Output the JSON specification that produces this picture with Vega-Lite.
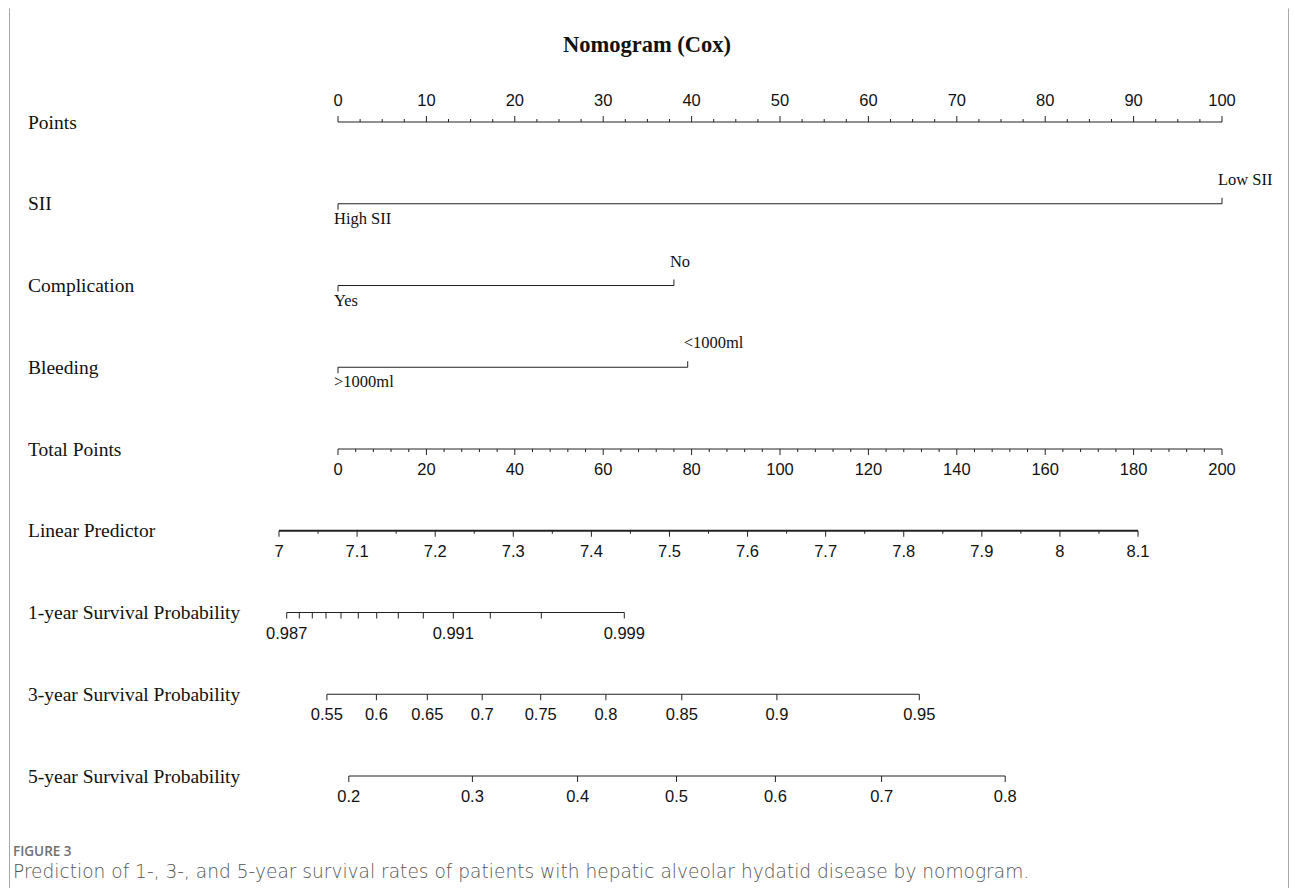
{
  "$schema": "https://vega.github.io/schema/vega-lite/v6.json",
  "width": 1279,
  "height": 880,
  "autosize": "none",
  "padding": {"left": 9, "top": 8, "right": 7, "bottom": 0},
  "background": "white",
  "config": {
    "view": {"stroke": null},
    "axis": {"domainColor": "#a6a6a6", "domainWidth": 1, "ticks": false, "labels": false, "grid": false}
  },
  "resolve": {"axis": {"y": "independent"}},
  "datasets": {
    "lines": [
      {"row": 0, "name": "Points", "start": 0, "end": 100},
      {"row": 1, "name": "SII", "start": 0, "end": 100},
      {"row": 2, "name": "Complication", "start": 0, "end": 38.0},
      {"row": 3, "name": "Bleeding", "start": 0, "end": 39.56},
      {"row": 4, "name": "Total Points", "start": 0, "end": 100},
      {"row": 5, "name": "Linear Predictor", "start": -6.674, "end": 90.5},
      {"row": 6, "name": "1-year Survival Probability", "start": -5.803, "end": 32.387},
      {"row": 7, "name": "3-year Survival Probability", "start": -1.256, "end": 65.758},
      {"row": 8, "name": "5-year Survival Probability", "start": 1.222, "end": 75.475}
    ],
    "ticks": [
      {"row": 0, "pos": 0, "dir": "up", "major": true, "label": "0"},
      {"row": 0, "pos": 2.5, "dir": "up"},
      {"row": 0, "pos": 5, "dir": "up"},
      {"row": 0, "pos": 7.5, "dir": "up"},
      {"row": 0, "pos": 10, "dir": "up", "major": true, "label": "10"},
      {"row": 0, "pos": 12.5, "dir": "up"},
      {"row": 0, "pos": 15, "dir": "up"},
      {"row": 0, "pos": 17.5, "dir": "up"},
      {"row": 0, "pos": 20, "dir": "up", "major": true, "label": "20"},
      {"row": 0, "pos": 22.5, "dir": "up"},
      {"row": 0, "pos": 25, "dir": "up"},
      {"row": 0, "pos": 27.5, "dir": "up"},
      {"row": 0, "pos": 30, "dir": "up", "major": true, "label": "30"},
      {"row": 0, "pos": 32.5, "dir": "up"},
      {"row": 0, "pos": 35, "dir": "up"},
      {"row": 0, "pos": 37.5, "dir": "up"},
      {"row": 0, "pos": 40, "dir": "up", "major": true, "label": "40"},
      {"row": 0, "pos": 42.5, "dir": "up"},
      {"row": 0, "pos": 45, "dir": "up"},
      {"row": 0, "pos": 47.5, "dir": "up"},
      {"row": 0, "pos": 50, "dir": "up", "major": true, "label": "50"},
      {"row": 0, "pos": 52.5, "dir": "up"},
      {"row": 0, "pos": 55, "dir": "up"},
      {"row": 0, "pos": 57.5, "dir": "up"},
      {"row": 0, "pos": 60, "dir": "up", "major": true, "label": "60"},
      {"row": 0, "pos": 62.5, "dir": "up"},
      {"row": 0, "pos": 65, "dir": "up"},
      {"row": 0, "pos": 67.5, "dir": "up"},
      {"row": 0, "pos": 70, "dir": "up", "major": true, "label": "70"},
      {"row": 0, "pos": 72.5, "dir": "up"},
      {"row": 0, "pos": 75, "dir": "up"},
      {"row": 0, "pos": 77.5, "dir": "up"},
      {"row": 0, "pos": 80, "dir": "up", "major": true, "label": "80"},
      {"row": 0, "pos": 82.5, "dir": "up"},
      {"row": 0, "pos": 85, "dir": "up"},
      {"row": 0, "pos": 87.5, "dir": "up"},
      {"row": 0, "pos": 90, "dir": "up", "major": true, "label": "90"},
      {"row": 0, "pos": 92.5, "dir": "up"},
      {"row": 0, "pos": 95, "dir": "up"},
      {"row": 0, "pos": 97.5, "dir": "up"},
      {"row": 0, "pos": 100, "dir": "up", "major": true, "label": "100"},

      {"row": 1, "pos": 0, "dir": "down", "major": true, "label": "High SII", "kind": "cat"},
      {"row": 1, "pos": 100, "dir": "up", "major": true, "label": "Low SII", "kind": "cat"},
      {"row": 2, "pos": 0, "dir": "down", "major": true, "label": "Yes", "kind": "cat"},
      {"row": 2, "pos": 38.0, "dir": "up", "major": true, "label": "No", "kind": "cat"},
      {"row": 3, "pos": 0, "dir": "down", "major": true, "label": ">1000ml", "kind": "cat"},
      {"row": 3, "pos": 39.56, "dir": "up", "major": true, "label": "<1000ml", "kind": "cat"},

      {"row": 4, "pos": 0, "dir": "down", "major": true, "label": "0"},
      {"row": 4, "pos": 2, "dir": "down"},
      {"row": 4, "pos": 4, "dir": "down"},
      {"row": 4, "pos": 6, "dir": "down"},
      {"row": 4, "pos": 8, "dir": "down"},
      {"row": 4, "pos": 10, "dir": "down", "major": true, "label": "20"},
      {"row": 4, "pos": 12, "dir": "down"},
      {"row": 4, "pos": 14, "dir": "down"},
      {"row": 4, "pos": 16, "dir": "down"},
      {"row": 4, "pos": 18, "dir": "down"},
      {"row": 4, "pos": 20, "dir": "down", "major": true, "label": "40"},
      {"row": 4, "pos": 22, "dir": "down"},
      {"row": 4, "pos": 24, "dir": "down"},
      {"row": 4, "pos": 26, "dir": "down"},
      {"row": 4, "pos": 28, "dir": "down"},
      {"row": 4, "pos": 30, "dir": "down", "major": true, "label": "60"},
      {"row": 4, "pos": 32, "dir": "down"},
      {"row": 4, "pos": 34, "dir": "down"},
      {"row": 4, "pos": 36, "dir": "down"},
      {"row": 4, "pos": 38, "dir": "down"},
      {"row": 4, "pos": 40, "dir": "down", "major": true, "label": "80"},
      {"row": 4, "pos": 42, "dir": "down"},
      {"row": 4, "pos": 44, "dir": "down"},
      {"row": 4, "pos": 46, "dir": "down"},
      {"row": 4, "pos": 48, "dir": "down"},
      {"row": 4, "pos": 50, "dir": "down", "major": true, "label": "100"},
      {"row": 4, "pos": 52, "dir": "down"},
      {"row": 4, "pos": 54, "dir": "down"},
      {"row": 4, "pos": 56, "dir": "down"},
      {"row": 4, "pos": 58, "dir": "down"},
      {"row": 4, "pos": 60, "dir": "down", "major": true, "label": "120"},
      {"row": 4, "pos": 62, "dir": "down"},
      {"row": 4, "pos": 64, "dir": "down"},
      {"row": 4, "pos": 66, "dir": "down"},
      {"row": 4, "pos": 68, "dir": "down"},
      {"row": 4, "pos": 70, "dir": "down", "major": true, "label": "140"},
      {"row": 4, "pos": 72, "dir": "down"},
      {"row": 4, "pos": 74, "dir": "down"},
      {"row": 4, "pos": 76, "dir": "down"},
      {"row": 4, "pos": 78, "dir": "down"},
      {"row": 4, "pos": 80, "dir": "down", "major": true, "label": "160"},
      {"row": 4, "pos": 82, "dir": "down"},
      {"row": 4, "pos": 84, "dir": "down"},
      {"row": 4, "pos": 86, "dir": "down"},
      {"row": 4, "pos": 88, "dir": "down"},
      {"row": 4, "pos": 90, "dir": "down", "major": true, "label": "180"},
      {"row": 4, "pos": 92, "dir": "down"},
      {"row": 4, "pos": 94, "dir": "down"},
      {"row": 4, "pos": 96, "dir": "down"},
      {"row": 4, "pos": 98, "dir": "down"},
      {"row": 4, "pos": 100, "dir": "down", "major": true, "label": "200"},

      {"row": 5, "pos": -6.674, "dir": "down", "major": true, "label": "7"},
      {"row": 5, "pos": -2.257, "dir": "down"},
      {"row": 5, "pos": 2.160, "dir": "down", "major": true, "label": "7.1"},
      {"row": 5, "pos": 6.577, "dir": "down"},
      {"row": 5, "pos": 10.994, "dir": "down", "major": true, "label": "7.2"},
      {"row": 5, "pos": 15.411, "dir": "down"},
      {"row": 5, "pos": 19.828, "dir": "down", "major": true, "label": "7.3"},
      {"row": 5, "pos": 24.245, "dir": "down"},
      {"row": 5, "pos": 28.662, "dir": "down", "major": true, "label": "7.4"},
      {"row": 5, "pos": 33.079, "dir": "down"},
      {"row": 5, "pos": 37.496, "dir": "down", "major": true, "label": "7.5"},
      {"row": 5, "pos": 41.913, "dir": "down"},
      {"row": 5, "pos": 46.330, "dir": "down", "major": true, "label": "7.6"},
      {"row": 5, "pos": 50.747, "dir": "down"},
      {"row": 5, "pos": 55.164, "dir": "down", "major": true, "label": "7.7"},
      {"row": 5, "pos": 59.581, "dir": "down"},
      {"row": 5, "pos": 63.998, "dir": "down", "major": true, "label": "7.8"},
      {"row": 5, "pos": 68.415, "dir": "down"},
      {"row": 5, "pos": 72.832, "dir": "down", "major": true, "label": "7.9"},
      {"row": 5, "pos": 77.249, "dir": "down"},
      {"row": 5, "pos": 81.666, "dir": "down", "major": true, "label": "8"},
      {"row": 5, "pos": 86.083, "dir": "down"},
      {"row": 5, "pos": 90.500, "dir": "down", "major": true, "label": "8.1"},

      {"row": 6, "pos": -5.803, "dir": "down", "major": true, "label": "0.987"},
      {"row": 6, "pos": -4.378, "dir": "down", "major": true},
      {"row": 6, "pos": -2.907, "dir": "down", "major": true},
      {"row": 6, "pos": -1.357, "dir": "down", "major": true},
      {"row": 6, "pos": 0.339, "dir": "down", "major": true},
      {"row": 6, "pos": 2.296, "dir": "down", "major": true},
      {"row": 6, "pos": 4.378, "dir": "down", "major": true},
      {"row": 6, "pos": 6.821, "dir": "down", "major": true},
      {"row": 6, "pos": 9.649, "dir": "down", "major": true},
      {"row": 6, "pos": 13.043, "dir": "down", "major": true, "label": "0.991"},
      {"row": 6, "pos": 17.229, "dir": "down", "major": true},
      {"row": 6, "pos": 22.998, "dir": "down", "major": true},
      {"row": 6, "pos": 32.387, "dir": "down", "major": true, "label": "0.999"},

      {"row": 7, "pos": -1.256, "dir": "down", "major": true, "label": "0.55"},
      {"row": 7, "pos": 4.344, "dir": "down", "major": true, "label": "0.6"},
      {"row": 7, "pos": 10.102, "dir": "down", "major": true, "label": "0.65"},
      {"row": 7, "pos": 16.312, "dir": "down", "major": true, "label": "0.7"},
      {"row": 7, "pos": 22.930, "dir": "down", "major": true, "label": "0.75"},
      {"row": 7, "pos": 30.305, "dir": "down", "major": true, "label": "0.8"},
      {"row": 7, "pos": 38.891, "dir": "down", "major": true, "label": "0.85"},
      {"row": 7, "pos": 49.649, "dir": "down", "major": true, "label": "0.9"},
      {"row": 7, "pos": 65.758, "dir": "down", "major": true, "label": "0.95"},

      {"row": 8, "pos": 1.222, "dir": "down", "major": true, "label": "0.2"},
      {"row": 8, "pos": 15.204, "dir": "down", "major": true, "label": "0.3"},
      {"row": 8, "pos": 27.104, "dir": "down", "major": true, "label": "0.4"},
      {"row": 8, "pos": 38.292, "dir": "down", "major": true, "label": "0.5"},
      {"row": 8, "pos": 49.480, "dir": "down", "major": true, "label": "0.6"},
      {"row": 8, "pos": 61.493, "dir": "down", "major": true, "label": "0.7"},
      {"row": 8, "pos": 75.475, "dir": "down", "major": true, "label": "0.8"}
    ]
  },
  "layer": [
    {
      "data": {"name": "lines"},
      "mark": {"type": "rule", "color": "#222222"},
      "encoding": {
        "x": {"field": "start", "type": "quantitative", "scale": {"domain": [-37.217, 107.466], "nice": false, "zero": false}, "axis": {"orient": "top", "title": null}},
        "x2": {"field": "end"},
        "y": {"field": "row", "type": "quantitative", "scale": {"domain": [-1.3945, 9.37], "reverse": true, "nice": false, "zero": false}, "axis": {"orient": "left", "title": null}},
        "strokeWidth": {"condition": {"test": "datum.row === 5", "value": 2}, "value": 1.1}
      }
    },
    {
      "data": {"name": "lines"},
      "mark": {"type": "text", "font": "Liberation Serif", "fontSize": 19.5, "align": "left", "baseline": "middle", "dy": 0.5, "color": "#111111"},
      "encoding": {
        "x": {"datum": -35.068, "type": "quantitative", "scale": {"domain": [-37.217, 107.466], "nice": false, "zero": false}, "axis": null},
        "y": {"field": "row", "type": "quantitative", "scale": {"domain": [-1.3945, 9.37], "reverse": true, "nice": false, "zero": false}, "axis": {"orient": "right", "title": null}},
        "text": {"field": "name"}
      }
    },
    {
      "data": {"name": "ticks"},
      "transform": [{"filter": "datum.dir === 'up' && datum.major"}],
      "mark": {"type": "tick", "orient": "vertical", "size": 6, "thickness": 1, "yOffset": -3, "color": "#222222", "opacity": 1},
      "encoding": {
        "x": {"field": "pos", "type": "quantitative", "scale": {"domain": [-37.217, 107.466], "nice": false, "zero": false}, "axis": null},
        "y": {"field": "row", "type": "quantitative", "scale": {"domain": [-1.3945, 9.37], "reverse": true, "nice": false, "zero": false}, "axis": null}
      }
    },
    {
      "data": {"name": "ticks"},
      "transform": [{"filter": "datum.dir === 'up' && !datum.major"}],
      "mark": {"type": "tick", "orient": "vertical", "size": 3, "thickness": 1, "yOffset": -1.5, "color": "#222222", "opacity": 1},
      "encoding": {
        "x": {"field": "pos", "type": "quantitative", "scale": {"domain": [-37.217, 107.466], "nice": false, "zero": false}, "axis": null},
        "y": {"field": "row", "type": "quantitative", "scale": {"domain": [-1.3945, 9.37], "reverse": true, "nice": false, "zero": false}, "axis": null}
      }
    },
    {
      "data": {"name": "ticks"},
      "transform": [{"filter": "datum.dir === 'down' && datum.major"}],
      "mark": {"type": "tick", "orient": "vertical", "size": 6, "thickness": 1, "yOffset": 3, "color": "#222222", "opacity": 1},
      "encoding": {
        "x": {"field": "pos", "type": "quantitative", "scale": {"domain": [-37.217, 107.466], "nice": false, "zero": false}, "axis": null},
        "y": {"field": "row", "type": "quantitative", "scale": {"domain": [-1.3945, 9.37], "reverse": true, "nice": false, "zero": false}, "axis": null}
      }
    },
    {
      "data": {"name": "ticks"},
      "transform": [{"filter": "datum.dir === 'down' && !datum.major"}],
      "mark": {"type": "tick", "orient": "vertical", "size": 3, "thickness": 1, "yOffset": 1.5, "color": "#222222", "opacity": 1},
      "encoding": {
        "x": {"field": "pos", "type": "quantitative", "scale": {"domain": [-37.217, 107.466], "nice": false, "zero": false}, "axis": null},
        "y": {"field": "row", "type": "quantitative", "scale": {"domain": [-1.3945, 9.37], "reverse": true, "nice": false, "zero": false}, "axis": null}
      }
    },
    {
      "data": {"name": "ticks"},
      "transform": [{"filter": "datum.label && datum.kind !== 'cat' && datum.dir === 'up'"}],
      "mark": {"type": "text", "font": "Liberation Sans", "fontSize": 16.5, "align": "center", "baseline": "middle", "dy": -21, "color": "#111111"},
      "encoding": {
        "x": {"field": "pos", "type": "quantitative", "scale": {"domain": [-37.217, 107.466], "nice": false, "zero": false}, "axis": null},
        "y": {"field": "row", "type": "quantitative", "scale": {"domain": [-1.3945, 9.37], "reverse": true, "nice": false, "zero": false}, "axis": null},
        "text": {"field": "label"}
      }
    },
    {
      "data": {"name": "ticks"},
      "transform": [{"filter": "datum.label && datum.kind !== 'cat' && datum.dir === 'down'"}],
      "mark": {"type": "text", "font": "Liberation Sans", "fontSize": 16.5, "align": "center", "baseline": "middle", "dy": 21, "color": "#111111"},
      "encoding": {
        "x": {"field": "pos", "type": "quantitative", "scale": {"domain": [-37.217, 107.466], "nice": false, "zero": false}, "axis": null},
        "y": {"field": "row", "type": "quantitative", "scale": {"domain": [-1.3945, 9.37], "reverse": true, "nice": false, "zero": false}, "axis": null},
        "text": {"field": "label"}
      }
    },
    {
      "data": {"name": "ticks"},
      "transform": [{"filter": "datum.kind === 'cat' && datum.dir === 'up'"}],
      "mark": {"type": "text", "font": "Liberation Serif", "fontSize": 16.5, "align": "left", "baseline": "middle", "dx": -4, "dy": -24, "color": "#111111"},
      "encoding": {
        "x": {"field": "pos", "type": "quantitative", "scale": {"domain": [-37.217, 107.466], "nice": false, "zero": false}, "axis": null},
        "y": {"field": "row", "type": "quantitative", "scale": {"domain": [-1.3945, 9.37], "reverse": true, "nice": false, "zero": false}, "axis": null},
        "text": {"field": "label"}
      }
    },
    {
      "data": {"name": "ticks"},
      "transform": [{"filter": "datum.kind === 'cat' && datum.dir === 'down'"}],
      "mark": {"type": "text", "font": "Liberation Serif", "fontSize": 16.5, "align": "left", "baseline": "middle", "dx": -4, "dy": 15, "color": "#111111"},
      "encoding": {
        "x": {"field": "pos", "type": "quantitative", "scale": {"domain": [-37.217, 107.466], "nice": false, "zero": false}, "axis": null},
        "y": {"field": "row", "type": "quantitative", "scale": {"domain": [-1.3945, 9.37], "reverse": true, "nice": false, "zero": false}, "axis": null},
        "text": {"field": "label"}
      }
    },
    {
      "data": {"values": [{"title": "Nomogram (Cox)"}]},
      "mark": {"type": "text", "font": "Liberation Serif", "fontSize": 22.5, "fontWeight": "bold", "align": "center", "baseline": "middle", "color": "#111111"},
      "encoding": {
        "x": {"datum": 34.955, "type": "quantitative", "scale": {"domain": [-37.217, 107.466], "nice": false, "zero": false}, "axis": null},
        "y": {"datum": -0.942, "type": "quantitative", "scale": {"domain": [-1.3945, 9.37], "reverse": true, "nice": false, "zero": false}, "axis": null},
        "text": {"field": "title"}
      }
    },
    {
      "data": {"values": [{"caption": "FIGURE 3"}]},
      "mark": {"type": "text", "font": "Open Sans", "fontSize": 13.5, "fontWeight": 600, "align": "left", "baseline": "middle", "color": "#707070"},
      "encoding": {
        "x": {"datum": -36.765, "type": "quantitative", "scale": {"domain": [-37.217, 107.466], "nice": false, "zero": false}, "axis": null},
        "y": {"datum": 8.93, "type": "quantitative", "scale": {"domain": [-1.3945, 9.37], "reverse": true, "nice": false, "zero": false}, "axis": null},
        "text": {"field": "caption"}
      }
    },
    {
      "data": {"values": [{"caption": "Prediction of 1-, 3-, and 5-year survival rates of patients with hepatic alveolar hydatid disease by nomogram."}]},
      "mark": {"type": "text", "font": "DejaVu Sans", "fontSize": 18.6, "fontWeight": 200, "align": "left", "baseline": "middle", "color": "#555555"},
      "encoding": {
        "x": {"datum": -36.765, "type": "quantitative", "scale": {"domain": [-37.217, 107.466], "nice": false, "zero": false}, "axis": null},
        "y": {"datum": 9.174, "type": "quantitative", "scale": {"domain": [-1.3945, 9.37], "reverse": true, "nice": false, "zero": false}, "axis": null},
        "text": {"field": "caption"}
      }
    }
  ]
}
